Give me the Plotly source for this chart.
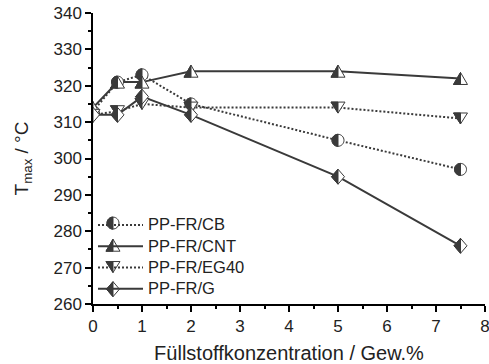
import plotly.graph_objects as go

# Füllstoffkonzentration in Gew.%
konz = [0, 0.5, 1, 2, 5, 7.5]

# T_max in °C
t_cb = [313, 321, 323, 315, 305, 297]
t_cnt = [314, 321, 321, 324, 324, 322]
t_eg40 = [312, 313, 315, 314, 314, 311]
t_g = [312, 312, 317, 312, 295, 276]

x_ticks = [0, 1, 2, 3, 4, 5, 6, 7, 8]
y_ticks = [260, 270, 280, 290, 300, 310, 320, 330, 340]

DARK = "#3a3a3a"
FONT = "Liberation Sans, Arial"
DOTTED = "2px,2px"

# where the legend symbols sit (paper coords), legend drawn by plotly
LEG_X = 0.051
LEG_Y = [0.278, 0.202, 0.127, 0.051]


def circle_paths(r=6):
    k = 0.5523 * r
    full = (f"M 0,{r} C {k},{r} {r},{k} {r},0 C {r},{-k} {k},{-r} 0,{-r} "
            f"C {-k},{-r} {-r},{-k} {-r},0 C {-r},{k} {-k},{r} 0,{r} Z")
    half = f"M 0,{r} C {-k},{r} {-r},{k} {-r},0 C {-r},{-k} {-k},{-r} 0,{-r} Z"
    return full, half


def tri_up_paths(w=7, h=6):
    return (f"M 0,{h} L {w},{-h} L {-w},{-h} Z", f"M 0,{h} L {-w},{-h} L 0,{-h} Z")


def tri_down_paths(w=7, h=5.5):
    return (f"M {-w},{h} L {w},{h} L 0,{-h} Z", f"M {-w},{h} L 0,{h} L 0,{-h} Z")


def diamond_paths(w=6.5, h=7.5):
    return (f"M 0,{h} L {w},0 L 0,{-h} L {-w},0 Z", f"M 0,{h} L {-w},0 L 0,{-h} Z")


def add_marker(fig, paths, xv, yv, xref="x", yref="y"):
    full, half = paths
    for path, fill in ((full, "white"), (half, DARK)):
        fig.add_shape(
            type="path", path=path, xref=xref, yref=yref,
            xsizemode="pixel", ysizemode="pixel", xanchor=xv, yanchor=yv,
            fillcolor=fill, line=dict(color=DARK, width=1), layer="above",
        )


series = [
    ("PP-FR/CB", t_cb, DOTTED, circle_paths()),
    ("PP-FR/CNT", t_cnt, "solid", tri_up_paths()),
    ("PP-FR/EG40", t_eg40, DOTTED, tri_down_paths()),
    ("PP-FR/G", t_g, "solid", diamond_paths()),
]

fig = go.Figure()
for i, (name, vals, dash, paths) in enumerate(series):
    fig.add_trace(go.Scatter(
        x=konz, y=vals, mode="lines",
        name=f"<span style='font-size:16.5px'>{name}</span>",
        line=dict(color=DARK, width=2, dash=dash),
    ))
    # half filled markers as pixel-sized shapes at the data points
    for xv, yv in zip(konz, vals):
        add_marker(fig, paths, xv, yv)
    # same symbol on top of the legend line
    add_marker(fig, paths, LEG_X, LEG_Y[i], xref="paper", yref="paper")

axis_common = dict(
    showline=True, linecolor="black", linewidth=1.5,
    ticks="outside", ticklen=6, tickwidth=1.5, tickcolor="black",
    showgrid=False, zeroline=False, mirror=False, automargin=False,
    tickfont=dict(family=FONT, size=17, color="#222"),
)

fig.update_layout(
    width=489, height=364,
    margin=dict(l=93, r=4, t=13, b=60),
    plot_bgcolor="white", paper_bgcolor="white",
    font=dict(family=FONT, color="#222"),
    xaxis=dict(
        range=[0, 8], tickvals=x_ticks, ticklabeloverflow="allow",
        minor=dict(dtick=0.5, ticks="outside", ticklen=3, tickwidth=1.5, tickcolor="black"),
        title=dict(text="Füllstoffkonzentration / Gew.%", font=dict(size=20), standoff=12),
        **axis_common,
    ),
    yaxis=dict(
        range=[260, 340], tickvals=y_ticks, ticklabeloverflow="allow",
        minor=dict(dtick=5, ticks="outside", ticklen=3, tickwidth=1.5, tickcolor="black"),
        title=dict(text="T<sub>max</sub> / °C", font=dict(size=19), standoff=20),
        **axis_common,
    ),
    legend=dict(
        x=0.0, y=0.325, xanchor="left", yanchor="top",
        bgcolor="rgba(0,0,0,0)",
        font=dict(size=14, color="#222"),
        tracegroupgap=0, itemwidth=45,
    ),
)

fig.write_html("out.html", config={"displayModeBar": False},
               post_script="document.body.style.margin='0';")
